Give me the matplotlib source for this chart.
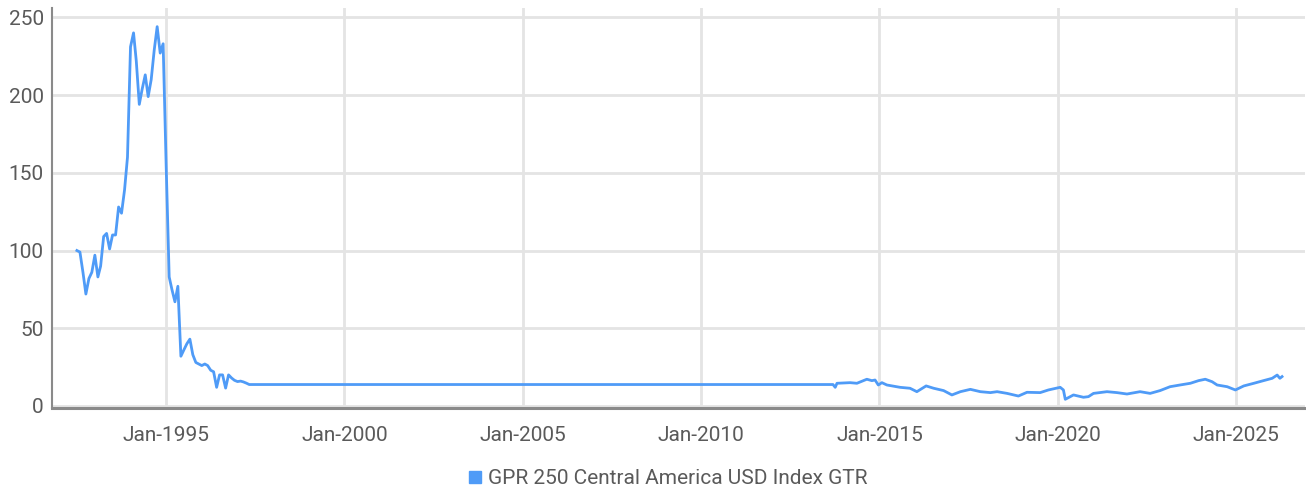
import matplotlib
matplotlib.use('Agg')
import matplotlib.pyplot as plt
import matplotlib.dates as mdates
from matplotlib.lines import Line2D
import pandas as pd

# monthly values from Jul-1992 to Apr-1997
early_start = '1992-07-01'
early_values = [100, 99, 86, 72, 82, 86, 97, 83, 90, 109, 111, 101, 110, 110,
                128, 124, 139, 160, 231, 240, 222, 194, 204, 213, 199, 210,
                229, 244, 227, 233, 155, 83, 75, 67, 77, 32, 36, 40, 43, 33,
                28, 27, 26, 27, 26, 23, 22, 12, 20, 20, 11.5, 20, 18, 16.5,
                15.7, 16, 15.5, 14.7, 13.8]

# values after the data gap
late_dates = ['2013-09-12', '2013-10-05', '2013-10-23', '2014-03-06', '2014-05-15',
              '2014-08-25', '2014-10-15', '2014-11-17', '2014-12-20', '2015-01-26',
              '2015-03-18', '2015-07-31', '2015-11-10', '2016-01-19', '2016-04-23',
              '2016-07-09', '2016-10-19', '2017-01-12', '2017-04-09', '2017-07-20',
              '2017-10-30', '2018-02-10', '2018-04-20', '2018-07-31', '2018-11-24',
              '2019-02-20', '2019-07-05', '2019-09-27', '2020-01-26', '2020-02-28',
              '2020-03-18', '2020-06-10', '2020-09-20', '2020-11-10', '2021-01-01',
              '2021-05-19', '2021-08-29', '2021-12-10', '2022-04-23', '2022-08-04',
              '2022-11-14', '2023-02-24', '2023-06-06', '2023-09-20', '2023-12-13',
              '2024-02-20', '2024-04-30', '2024-06-20', '2024-10-01', '2024-12-24',
              '2025-03-20', '2025-07-01', '2025-10-08', '2026-01-05', '2026-02-25',
              '2026-03-25', '2026-04-16']
late_values = [13.8, 12, 14.6, 15, 14.6, 17.2, 16.3, 16.7, 13.5, 15, 13.5, 12,
               11.4, 9.2, 12.9, 11.4, 9.9, 7.1, 9.2, 10.7, 9.2, 8.6, 9.2, 8.1,
               6.4, 8.8, 8.6, 10.3, 12, 10.3, 4.3, 7.1, 5.6, 6.0, 8.1, 9.2, 8.6,
               7.7, 9.2, 8.1, 9.9, 12.4, 13.5, 14.6, 16.3, 17.2, 15.6, 13.5, 12.4,
               10.3, 12.9, 14.6, 16.3, 17.8, 19.9, 17.8, 18.9]

series_name = 'GPR 250 Central America USD Index GTR'
tick_years = [1995, 2000, 2005, 2010, 2015, 2020, 2025]

dates = list(pd.date_range(early_start, periods=len(early_values), freq='MS')) + \
    list(pd.to_datetime(late_dates))
values = early_values + late_values

line_color = '#4f9bf7'
text_color = '#5a5a5a'

plt.rcParams['font.family'] = ['Liberation Sans Narrow', 'Roboto', 'DejaVu Sans']

fig = plt.figure(figsize=(13.06, 4.93), dpi=100)
ax = fig.add_axes([52 / 1306, 85 / 493, 1253 / 1306, 400 / 493])

ax.plot(dates, values, color=line_color, linewidth=2.0, solid_joinstyle='round')

ax.set_xlim(pd.Timestamp('1991-10-20'), pd.Timestamp('2026-12-07'))
ax.set_ylim(-1.3, 256)
ax.set_yticks([0, 50, 100, 150, 200, 250])
ax.set_xticks([pd.Timestamp(f'{y}-01-01') for y in tick_years])
ax.xaxis.set_major_formatter(mdates.DateFormatter('Jan-%Y'))

ax.grid(True, color='#e4e4e4', linewidth=2)
ax.set_axisbelow(True)
ax.tick_params(length=0, labelsize=15, colors=text_color)
ax.tick_params(axis='x', pad=13)
ax.tick_params(axis='y', pad=6)

for s in ['top', 'right']:
    ax.spines[s].set_visible(False)
ax.spines['left'].set_color('#8a8a8a')
ax.spines['left'].set_linewidth(1.5)
ax.spines['bottom'].set_color('#8a8a8a')
ax.spines['bottom'].set_linewidth(2.2)

handle = Line2D([], [], marker='s', linestyle='none', color=line_color,
                markersize=9)
fig.legend([handle], [series_name], loc='center', bbox_to_anchor=(666 / 1306, 1 - 479 / 493),
           frameon=False, fontsize=15, labelcolor=text_color, handletextpad=0.1,
           handlelength=1.0)

fig.savefig('out.png', dpi=100)
